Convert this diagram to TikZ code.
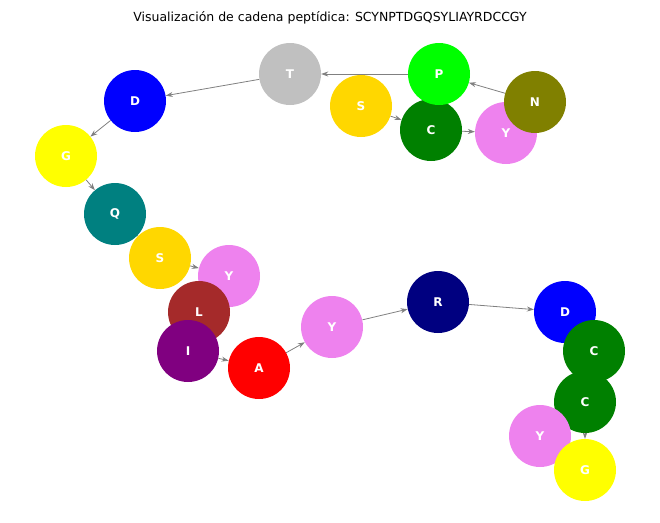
\documentclass[tikz,border=0pt]{standalone}
\usepackage{fontspec}
\setmainfont{DejaVu Sans}
\usetikzlibrary{backgrounds,arrows.meta}
\definecolor{cgold}{RGB}{255,215,0}
\definecolor{cgreen}{RGB}{0,128,0}
\definecolor{cviolet}{RGB}{238,130,238}
\definecolor{colive}{RGB}{128,128,0}
\definecolor{clime}{RGB}{0,255,0}
\definecolor{csilver}{RGB}{192,192,192}
\definecolor{cblue}{RGB}{0,0,255}
\definecolor{cyellow}{RGB}{255,255,0}
\definecolor{cteal}{RGB}{0,128,128}
\definecolor{cbrown}{RGB}{165,42,42}
\definecolor{cpurple}{RGB}{128,0,128}
\definecolor{cred}{RGB}{255,0,0}
\definecolor{cnavy}{RGB}{0,0,128}
\tikzset{
  aa/.style={circle,minimum size=62pt,inner sep=0pt,text=white,font=\bfseries\fontsize{12}{12}\selectfont},
  edge/.style={draw=gray,line width=0.8pt,-{Stealth[length=7pt,width=5pt]}}
}
\begin{document}
\begin{tikzpicture}[x=1pt,y=-1pt]
\useasboundingbox (0,0) rectangle (660,522);
\node (title) at (330,18) {\fontsize{12.5}{14}\selectfont Visualización de cadena peptídica: SCYNPTDGQSYLIAYRDCCGY};
\node[aa,fill=cgold] (n1) at (361,106) {S};
\node[aa,fill=cgreen] (n2) at (431,130) {C};
\node[aa,fill=cviolet] (n3) at (506,133) {Y};
\node[aa,fill=colive] (n4) at (535,102) {N};
\node[aa,fill=clime] (n5) at (439,74) {P};
\node[aa,fill=csilver] (n6) at (290,74) {T};
\node[aa,fill=cblue] (n7) at (135,101) {D};
\node[aa,fill=cyellow] (n8) at (66,156) {G};
\node[aa,fill=cteal] (n9) at (115,214) {Q};
\node[aa,fill=cgold] (n10) at (160,258) {S};
\node[aa,fill=cviolet] (n11) at (229,276) {Y};
\node[aa,fill=cbrown] (n12) at (199,312) {L};
\node[aa,fill=cpurple] (n13) at (188,351) {I};
\node[aa,fill=cred] (n14) at (259,368) {A};
\node[aa,fill=cviolet] (n15) at (332,327) {Y};
\node[aa,fill=cnavy] (n16) at (438,302) {R};
\node[aa,fill=cblue] (n17) at (565,312) {D};
\node[aa,fill=cgreen] (n18) at (594,351) {C};
\node[aa,fill=cgreen] (n19) at (585,402) {C};
\node[aa,fill=cviolet] (n21) at (540,436) {Y};
\node[aa,fill=cyellow] (n20) at (585,470) {G};
\begin{scope}[on background layer]
\foreach \a/\b in {1/2,2/3,3/4,4/5,5/6,6/7,7/8,8/9,9/10,10/11,11/12,12/13,13/14,14/15,15/16,16/17,17/18,18/19,19/20,20/21}
  \draw[edge] (n\a) -- (n\b);
\end{scope}
\end{tikzpicture}
\end{document}
